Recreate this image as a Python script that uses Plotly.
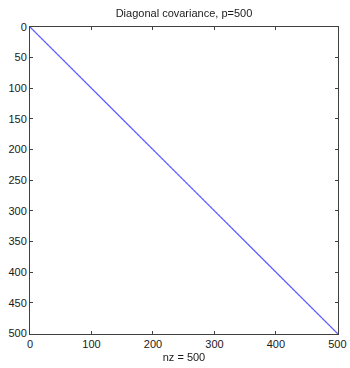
import numpy as np
import plotly.graph_objects as go

# Diagonal covariance matrix of size p
p = 500
cov = np.eye(p)
rows, cols = np.nonzero(cov)
row_idx = rows + 1
col_idx = cols + 1
nz = len(row_idx)

x_ticks = [0, 100, 200, 300, 400, 500]
y_ticks = [0, 50, 100, 150, 200, 250, 300, 350, 400, 450, 500]

font = dict(family="Liberation Sans, Arial, sans-serif", size=11, color="#1a1a1a")
axcol = "#404040"

fig = go.Figure()
fig.add_trace(go.Scattergl(
    x=col_idx, y=row_idx, mode="markers",
    marker=dict(color="#6262ff", size=1.6, line=dict(width=0)),
    hoverinfo="skip", showlegend=False,
))

axis_common = dict(
    showgrid=False, zeroline=False, showline=True, linecolor=axcol, linewidth=1,
    mirror="ticks", ticks="inside", ticklen=3, tickcolor=axcol, tickwidth=1,
    tickfont=font, automargin=False,
)

fig.update_layout(
    width=350, height=368,
    margin=dict(l=30, r=12, t=27, b=34),
    paper_bgcolor="white", plot_bgcolor="white",
    font=font,
    title=dict(text=f"Diagonal covariance, p={p}", x=0.5, xanchor="center",
               xref="paper", y=1 - 13 / 368, yref="container", yanchor="middle",
               font=font),
    xaxis=dict(range=[0, p + 1], tickvals=x_ticks,
               title=dict(text=f"nz = {nz}", standoff=4, font=font), **axis_common),
    yaxis=dict(range=[p + 1, 0], tickvals=y_ticks, **axis_common),
)

fig.write_html("out.html")
